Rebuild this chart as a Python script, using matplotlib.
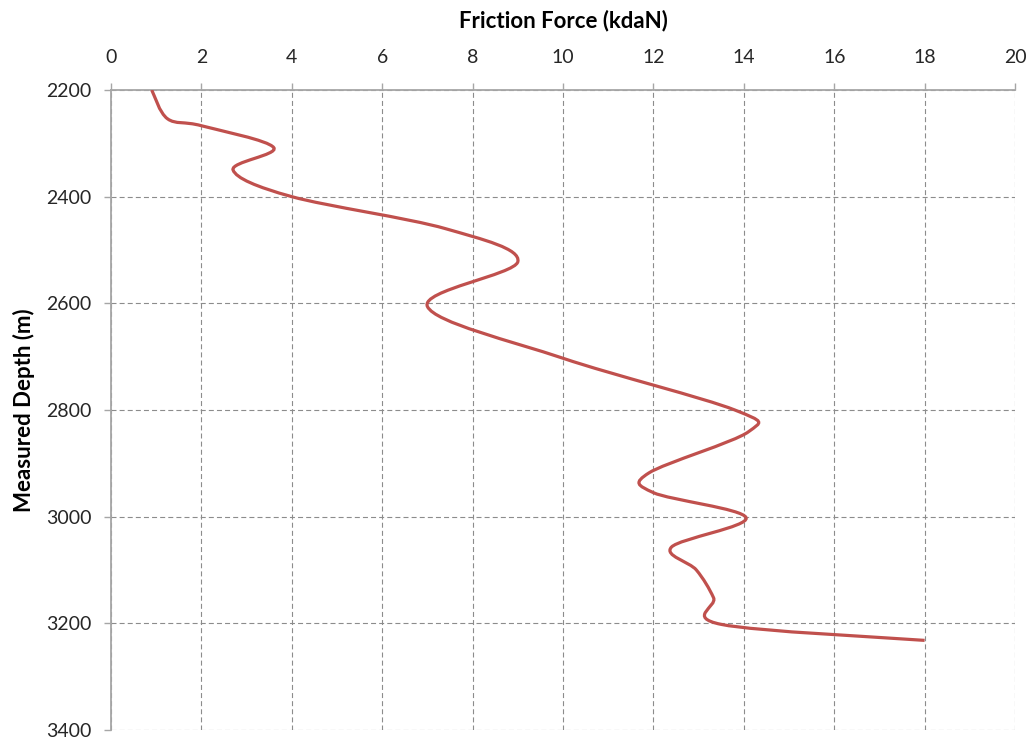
import numpy as np
import matplotlib.pyplot as plt
from matplotlib.path import Path
from matplotlib.patches import PathPatch

plt.rcParams['font.family'] = ['Lato', 'DejaVu Sans']

# friction force along the well, read at these measured depths
depth = [2200, 2254, 2267, 2308, 2350, 2400, 2460, 2522, 2606, 2703,
         2800, 2841, 2918, 2955, 3002, 3057, 3100, 3152, 3202, 3232]
force = [0.9, 1.25, 2.0, 3.6, 2.7, 4.0, 7.4, 9.0, 7.0, 10.0,
         13.8, 14.1, 11.9, 12.0, 14.05, 12.4, 12.95, 13.33, 13.5, 18.0]

x_ticks = np.arange(0, 21, 2)
y_ticks = np.arange(2200, 3401, 200)

red = '#C0504D'
grey = '#A6A6A6'


def smooth_path(xs, ys):
    # cubic bezier through every point (catmull-rom style tangents)
    p = np.column_stack([xs, ys]).astype(float)
    p = np.vstack([p[0], p, p[-1]])
    verts = [p[1]]
    codes = [Path.MOVETO]
    for i in range(1, len(p) - 2):
        c1 = p[i] + (p[i + 1] - p[i - 1]) / 6.0
        c2 = p[i + 1] - (p[i + 2] - p[i]) / 6.0
        verts += [c1, c2, p[i + 1]]
        codes += [Path.CURVE4] * 3
    return Path(verts, codes)


fig = plt.figure(figsize=(10.31, 7.42), dpi=100)
ax = fig.add_axes([0.1077, 0.0162, 0.8768, 0.8625])

ax.add_patch(PathPatch(smooth_path(force, depth), facecolor='none',
                       edgecolor=red, lw=2.3, capstyle='butt', zorder=3))

ax.set_xlim(0, 20)
ax.set_ylim(3400, 2200)
ax.set_xticks(x_ticks)
ax.set_yticks(y_ticks)
ax.xaxis.tick_top()
ax.xaxis.set_label_position('top')

ax.grid(True, color='#8C8C8C', lw=0.8, linestyle=(0, (4.5, 2.8)))
ax.set_axisbelow(True)
for s in ['bottom', 'right']:
    ax.spines[s].set_visible(False)
for s in ['left', 'top']:
    ax.spines[s].set_color(grey)
    ax.spines[s].set_linewidth(1.3)

ax.tick_params(axis='x', length=5, width=1, color=grey, pad=12,
               labelsize=14, labelcolor='#262626')
ax.tick_params(axis='y', length=5, width=1, color=grey, pad=9,
               labelsize=14, labelcolor='#262626')

ax.set_xlabel('Friction Force (kdaN)', fontsize=16, fontweight='bold',
              labelpad=16)
ax.set_ylabel('Measured Depth (m)', fontsize=16, fontweight='bold',
              labelpad=8)

plt.savefig('out.png', dpi=100)
